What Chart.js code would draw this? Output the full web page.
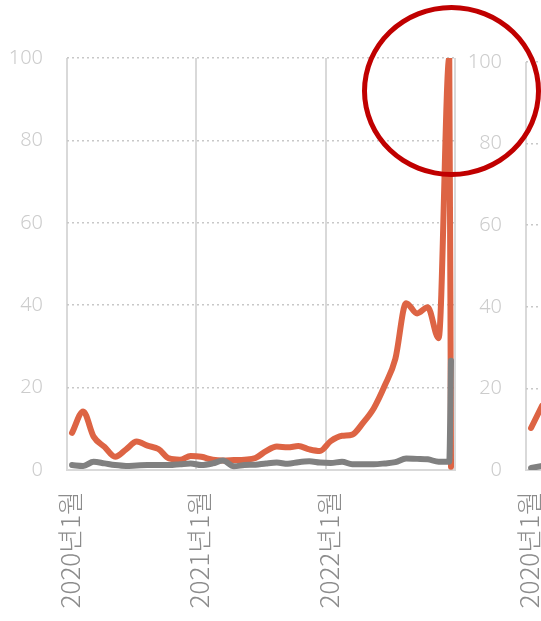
<!DOCTYPE html>
<html lang="ko">
<head>
<meta charset="utf-8">
<script src="https://cdn.jsdelivr.net/npm/chart.js@4.4.0/dist/chart.umd.min.js"></script>
<style>
  html, body { margin: 0; padding: 0; background: #fff; overflow: hidden; width: 541px; height: 621px; }
  #wrap1 { position: absolute; left: 0; top: 0; width: 541px; height: 621px; }
  #wrap2 { position: absolute; left: 440px; top: 0; width: 560px; height: 621px; }
  #circle { position: absolute; left: 362px; top: 5px; width: 179px; height: 172px; box-sizing: border-box;
            border: 5px solid #C00000; border-radius: 50%; }
</style>
</head>
<body>
<div id="wrap2"><canvas id="chart2"></canvas></div>
<div id="wrap1"><canvas id="chart1"></canvas></div>
<div id="circle"></div>
<script>
// monthly points (mid-month) + one last partial point
const dates = [
    '2020-01-15', '2020-02-15', '2020-03-15', '2020-04-15', '2020-05-15', '2020-06-15',
    '2020-07-15', '2020-08-15', '2020-09-15', '2020-10-15', '2020-11-15', '2020-12-15',
    '2021-01-15', '2021-02-15', '2021-03-15', '2021-04-15', '2021-05-15', '2021-06-15',
    '2021-07-15', '2021-08-15', '2021-09-15', '2021-10-15', '2021-11-15', '2021-12-15',
    '2022-01-15', '2022-02-15', '2022-03-15', '2022-04-15', '2022-05-15', '2022-06-15',
    '2022-07-15', '2022-08-15', '2022-09-15', '2022-10-15', '2022-11-15', '2022-12-15',
    '2022-12-20'
];
const orangeValues = [
    9.0, 14.2, 8.1, 5.6, 3.2, 5.0, 6.9, 5.9, 5.1, 2.8, 2.5, 3.4,
    3.2, 2.5, 2.3, 2.4, 2.5, 2.9, 4.6, 5.7, 5.5, 5.8, 5.0, 4.6,
    7.0, 8.3, 8.6, 11.5, 15.0, 20.5, 27.0, 40.5, 38.0, 39.5, 32.0, 100,
    0.8
];
const grayValues = [
    1.2, 1.0, 2.0, 1.6, 1.2, 1.0, 1.1, 1.2, 1.2, 1.2, 1.4, 1.6,
    1.2, 1.6, 2.3, 0.9, 1.2, 1.3, 1.6, 1.8, 1.5, 1.9, 2.1, 1.8,
    1.7, 2.0, 1.4, 1.4, 1.4, 1.6, 1.9, 2.8, 2.7, 2.6, 2.0, 2.0,
    26.5
];

// second panel, only its start is inside the picture
const dates2 = ['2020-01-15', '2020-02-15'];
const orangeValues2 = [10.3, 15.8];
const grayValues2 = [0.5, 1.0];

const tickLabels = ['2020년1월', '2021년1월', '2022년1월', ''];

function monthPos(d) {
    const [y, m, day] = d.split('-').map(Number);
    const dim = new Date(y, m, 0).getDate();
    return (y - 2020) * 12 + (m - 1) + (day - 0.5) / dim;
}

function toPoints(ds, vals) {
    return ds.map((d, i) => ({ x: monthPos(d), y: vals[i] }));
}

function lineSet(points, color) {
    return {
        data: points,
        borderColor: color,
        borderWidth: 6,
        pointRadius: 0,
        cubicInterpolationMode: 'monotone',
        borderCapStyle: 'round',
        borderJoinStyle: 'round'
    };
}

function makeChart(id, ds, orange, gray, top, axisLeft, rightPad) {
    return new Chart(id, {
        type: 'line',
        data: {
            datasets: [
                lineSet(toPoints(ds, gray), '#808080'),
                lineSet(toPoints(ds, orange), '#DD6444')
            ]
        },
        options: {
            responsive: true,
            maintainAspectRatio: false,
            animation: false,
            layout: { padding: { top: top, right: rightPad, left: 0, bottom: 0 } },
            plugins: { legend: { display: false }, tooltip: { enabled: false } },
            scales: {
                x: {
                    type: 'linear',
                    min: 0,
                    max: 36,
                    afterBuildTicks: s => { s.ticks = [0, 12, 24, 36].map(v => ({ value: v })); },
                    afterFit: s => { s.height = 151; },
                    grid: { color: '#d9d9d9', lineWidth: 2, drawTicks: false },
                    border: { color: '#d9d9d9', width: 2 },
                    ticks: {
                        minRotation: 90,
                        maxRotation: 90,
                        padding: 21,
                        labelOffset: 3,
                        color: '#8c8c8c',
                        font: { family: 'Noto Sans CJK KR', size: 26, weight: '300' },
                        callback: v => tickLabels[v / 12]
                    }
                },
                y: {
                    min: 0,
                    max: 100,
                    afterFit: s => { s.width = axisLeft; },
                    grid: { color: '#c8c8c8', lineWidth: 1.5, drawTicks: false },
                    border: { display: false, dash: [2, 3] },
                    ticks: {
                        stepSize: 20,
                        padding: 24,
                        color: '#cccccc',
                        font: { family: 'Noto Sans', size: 20, weight: '300' }
                    }
                }
            }
        }
    });
}

makeChart('chart2', dates2, orangeValues2, grayValues2, 62, 86, 86);
makeChart('chart1', dates, orangeValues, grayValues, 58, 67, 86);
</script>
</body>
</html>
